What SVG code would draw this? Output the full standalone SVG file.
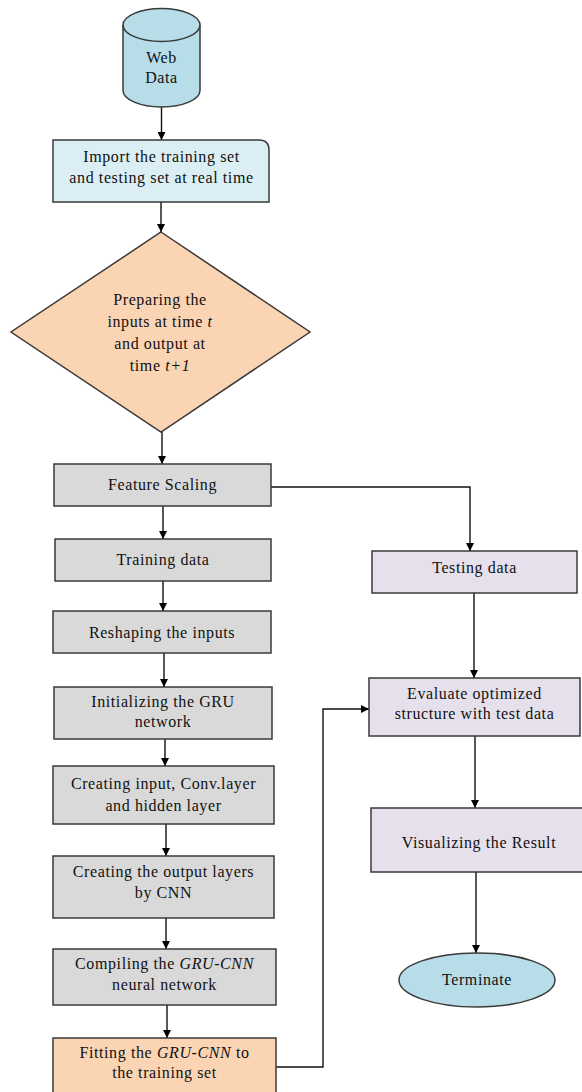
<svg xmlns="http://www.w3.org/2000/svg" width="582" height="1092" viewBox="0 0 582 1092">
<defs>
<marker id="ah" viewBox="0 0 10 10" refX="10" refY="5" markerWidth="9" markerHeight="8" orient="auto" markerUnits="userSpaceOnUse">
<path d="M0,0 L10,5 L0,10 Z" fill="#000"/>
</marker>
<style>
.box{stroke:#3a3a3a;stroke-width:1.5}
.gray{fill:#d9d9d9}
.purple{fill:#e5e0ec}
.orange{fill:#fbd4b4}
.blue{fill:#b6dde8}
.cyan{fill:#dbeef4}
.t{font-family:"Liberation Serif","Times New Roman",serif;font-size:16px;letter-spacing:0.6px;fill:#111;text-anchor:middle}
.i{font-style:italic}
.c{fill:none;stroke:#111;stroke-width:1.4}
</style>
</defs>
<rect width="582" height="1092" fill="#fff"/>
<g id="connectors">
<path class="c" d="M161.5,107 V140" marker-end="url(#ah)"/>
<path class="c" d="M161,202 V232" marker-end="url(#ah)"/>
<path class="c" d="M162,432 V464" marker-end="url(#ah)"/>
<path class="c" d="M271,487 H470 V551" marker-end="url(#ah)"/>
<path class="c" d="M163,506 V539" marker-end="url(#ah)"/>
<path class="c" d="M163,581 V611" marker-end="url(#ah)"/>
<path class="c" d="M164,653 V687" marker-end="url(#ah)"/>
<path class="c" d="M165,739 V766" marker-end="url(#ah)"/>
<path class="c" d="M166,824 V856" marker-end="url(#ah)"/>
<path class="c" d="M166,918 V949" marker-end="url(#ah)"/>
<path class="c" d="M167,1005 V1038" marker-end="url(#ah)"/>
<path class="c" d="M276,1067 H323 V709 H369" marker-end="url(#ah)"/>
<path class="c" d="M474,593 V678" marker-end="url(#ah)"/>
<path class="c" d="M475,736 V808" marker-end="url(#ah)"/>
<path class="c" d="M476,872 V953" marker-end="url(#ah)"/>
</g>
<g id="web-data">
<path class="box blue" d="M123,25 V90.5 A38.5,16.5 0 0 0 200,90.5 V25 A38.5,16.5 0 0 0 123,25 Z"/>
<path class="box" fill="none" d="M123,25 A38.5,16.5 0 0 0 200,25"/>
<text class="t" x="161.5" y="63">Web</text>
<text class="t" x="161.5" y="83">Data</text>
</g>
<g id="import">
<path class="box cyan" d="M53,140 H259 Q269,140 269,150 V202 H53 Z"/>
<text class="t" x="161.5" y="162">Import the training set</text>
<text class="t" x="161.5" y="183">and testing set at real time</text>
</g>
<g id="preparing">
<path class="box orange" d="M161,232 L310,332 L161,432 L11,332 Z"/>
<text class="t" x="160" y="305">Preparing the</text>
<text class="t" x="160" y="327">inputs at time <tspan class="i">t</tspan></text>
<text class="t" x="160" y="349">and output at</text>
<text class="t" x="160" y="371">time <tspan class="i">t+1</tspan></text>
</g>
<g id="feature-scaling">
<rect class="box gray" x="54" y="464" width="217" height="42"/>
<text class="t" x="162.5" y="490">Feature Scaling</text>
</g>
<g id="training-data">
<rect class="box gray" x="55" y="539" width="216" height="42"/>
<text class="t" x="163" y="565">Training data</text>
</g>
<g id="reshaping">
<rect class="box gray" x="53" y="611" width="218" height="42"/>
<text class="t" x="162" y="638">Reshaping the inputs</text>
</g>
<g id="initializing">
<rect class="box gray" x="54" y="687" width="218" height="52"/>
<text class="t" x="163" y="707">Initializing the GRU</text>
<text class="t" x="163" y="727">network</text>
</g>
<g id="creating-input">
<rect class="box gray" x="53" y="766" width="221" height="58"/>
<text class="t" x="163.5" y="789">Creating input, Conv.layer</text>
<text class="t" x="163.5" y="811">and hidden layer</text>
</g>
<g id="creating-output">
<rect class="box gray" x="53" y="856" width="221" height="62"/>
<text class="t" x="163.5" y="877">Creating the output layers</text>
<text class="t" x="163.5" y="898">by CNN</text>
</g>
<g id="compiling">
<rect class="box gray" x="53" y="949" width="223" height="56"/>
<text class="t" x="164.5" y="969">Compiling the <tspan class="i">GRU-CNN</tspan></text>
<text class="t" x="164.5" y="990">neural network</text>
</g>
<g id="fitting">
<rect class="box orange" x="53" y="1038" width="223" height="60"/>
<text class="t" x="164.5" y="1058">Fitting the <tspan class="i">GRU-CNN</tspan> to</text>
<text class="t" x="164.5" y="1078">the training set</text>
</g>
<g id="testing-data">
<rect class="box purple" x="372" y="551" width="205" height="42"/>
<text class="t" x="474.5" y="573">Testing data</text>
</g>
<g id="evaluate">
<rect class="box purple" x="369" y="678" width="211" height="58"/>
<text class="t" x="474.5" y="699">Evaluate optimized</text>
<text class="t" x="474.5" y="719">structure with test data</text>
</g>
<g id="visualizing">
<rect class="box purple" x="371" y="808" width="215" height="64"/>
<text class="t" x="479" y="848">Visualizing the Result</text>
</g>
<g id="terminate">
<ellipse class="box blue" cx="477" cy="980" rx="78" ry="27"/>
<text class="t" x="477" y="985">Terminate</text>
</g>
</svg>
